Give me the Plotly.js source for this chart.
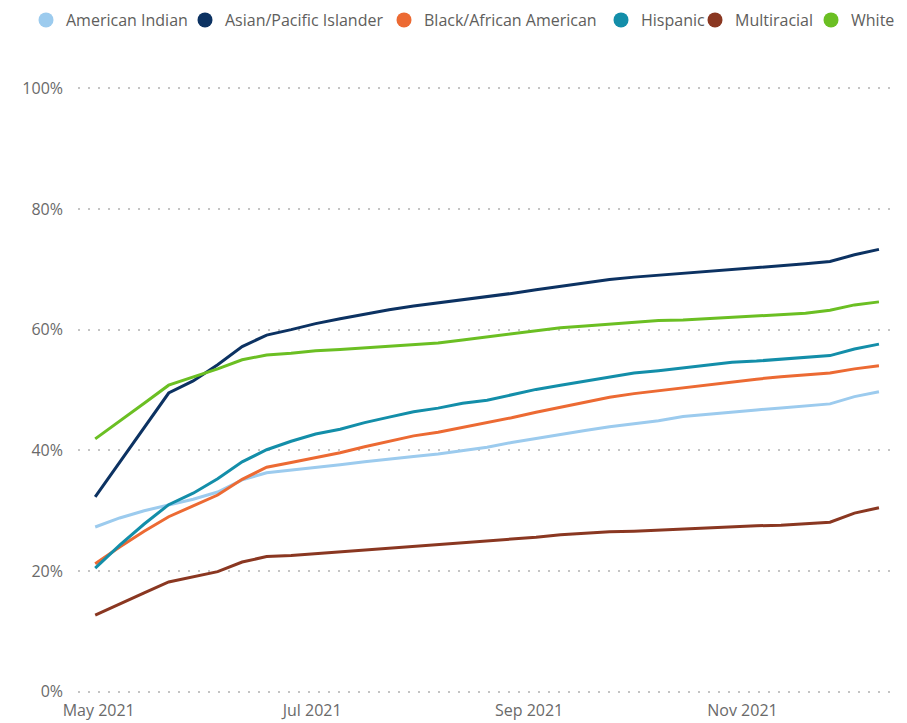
<!DOCTYPE html>
<html>
<head>
<meta charset="utf-8">
<script src="https://cdn.plot.ly/plotly-3.0.1.min.js"></script>
<style>html,body{margin:0;padding:0;background:#fff;}#chart{width:907px;height:723px;}</style>
</head>
<body>
<div id="chart"></div>
<script>
const dates = ["2021-04-30","2021-05-07","2021-05-14","2021-05-21","2021-05-28","2021-06-04","2021-06-11","2021-06-18","2021-06-25","2021-07-02","2021-07-09","2021-07-16","2021-07-23","2021-07-30","2021-08-06","2021-08-13","2021-08-20","2021-08-27","2021-09-03","2021-09-10","2021-09-17","2021-09-24","2021-10-01","2021-10-08","2021-10-15","2021-10-22","2021-10-29","2021-11-05","2021-11-12","2021-11-19","2021-11-26","2021-12-03","2021-12-10"];

const seriesNames = ["American Indian","Asian/Pacific Islander","Black/African American","Hispanic","Multiracial","White"];

const americanIndian = [27.3,28.8,30.0,31.0,31.9,33.1,35.1,36.3,36.7,37.2,37.6,38.1,38.6,39.0,39.4,39.9,40.5,41.3,42.0,42.6,43.3,43.9,44.4,44.9,45.6,46.0,46.3,46.7,47.0,47.3,47.7,48.9,49.7];
const asianPI = [32.3,38.1,43.8,49.5,51.5,54.2,57.2,59.1,60.0,61.0,61.8,62.6,63.3,63.9,64.4,64.9,65.4,66.0,66.6,67.2,67.8,68.3,68.7,69.0,69.3,69.6,70.0,70.3,70.5,70.9,71.3,72.4,73.3];
const blackAA = [21.2,24.0,26.6,29.0,30.8,32.6,35.2,37.2,38.0,38.8,39.6,40.6,41.5,42.4,43.0,43.8,44.5,45.4,46.3,47.1,48.0,48.8,49.4,49.9,50.4,50.9,51.4,51.8,52.2,52.5,52.8,53.5,54.0];
const hispanic = [20.5,24.3,27.8,31.0,32.9,35.3,38.1,40.1,41.5,42.7,43.5,44.6,45.5,46.4,47.0,47.8,48.3,49.2,50.1,50.8,51.5,52.2,52.8,53.2,53.7,54.1,54.6,54.8,55.1,55.5,55.7,56.8,57.6];
const multiracial = [12.7,14.6,16.4,18.2,19.0,19.9,21.5,22.4,22.6,22.9,23.2,23.5,23.8,24.1,24.4,24.6,24.9,25.3,25.6,26.0,26.3,26.5,26.6,26.8,27.0,27.2,27.3,27.5,27.6,27.8,28.1,29.6,30.5];
const white = [41.9,44.8,47.8,50.8,52.1,53.5,55.0,55.8,56.1,56.5,56.7,57.0,57.3,57.6,57.8,58.3,58.8,59.4,59.9,60.3,60.6,60.9,61.2,61.5,61.6,61.8,62.0,62.2,62.4,62.7,63.2,64.1,64.6];

const yTickVals = [0,20,40,60,80,100];
const yTickText = ["0%","20%","40%","60%","80%","100%"];

const colors = ["#9ccbee","#0c3262","#ec6a33","#138ea9","#8a3721","#6bbf23"];
const allValues = [americanIndian, asianPI, blackAA, hispanic, multiracial, white];
// legend entry anchors (px in container) for each series
const legendX = [42, 201, 400, 617, 711, 827];

const legendIds = ["legend","legend2","legend3","legend4","legend5","legend6"];
const traces = [];
allValues.forEach((vals, i) => {
  traces.push({
    x: dates, y: vals, type: "scatter", mode: "lines",
    name: seriesNames[i], legendgroup: seriesNames[i], showlegend: false,
    line: {color: colors[i], width: 3, shape: "linear"}
  });
});
seriesNames.forEach((n, i) => {
  traces.push({
    x: [null], y: [null], type: "scatter", mode: "markers",
    name: n, legendgroup: n, showlegend: true, legend: legendIds[i],
    marker: {color: colors[i], size: 15, symbol: "circle"}
  });
});

const layout = {
  width: 907, height: 723,
  margin: {l: 78, r: 12, t: 87, b: 30, autoexpand: false},
  paper_bgcolor: "#ffffff", plot_bgcolor: "#ffffff",
  font: {family: "Open Sans, sans-serif", color: "#666666", size: 16},
  showlegend: true,
  xaxis: {
    type: "date",
    range: ["2021-04-25 02:00", "2021-12-14 14:00"],
    tick0: "2021-05-01", dtick: "M2", tickformat: "%b %Y",
    showgrid: false, zeroline: false, showline: false,
    ticks: "", ticklabelstandoff: 6,
    tickfont: {family: "Open Sans, sans-serif", size: 16, color: "#6a6a6a"}
  },
  yaxis: {
    range: [-0.2, 100.2],
    tickvals: yTickVals, ticktext: yTickText,
    showgrid: true, gridcolor: "#c4c4c4", gridwidth: 2, griddash: "2px,8px",
    zeroline: false, showline: false, ticks: "", ticklabelstandoff: 14,
    tickfont: {family: "Open Sans, sans-serif", size: 16, color: "#6a6a6a"}
  }
};
legendIds.forEach((id, i) => {
  layout[id] = {
    xref: "container", yref: "container",
    x: (legendX[i] - 16) / 907, xanchor: "left",
    y: 1 - 20 / 723, yanchor: "middle",
    orientation: "h", bgcolor: "rgba(0,0,0,0)", borderwidth: 0,
    itemwidth: 30,
    font: {family: "Open Sans, sans-serif", size: 16, color: "#605e5c"}
  };
});

Plotly.newPlot("chart", traces, layout, {displayModeBar: false, staticPlot: true});
</script>
</body>
</html>
